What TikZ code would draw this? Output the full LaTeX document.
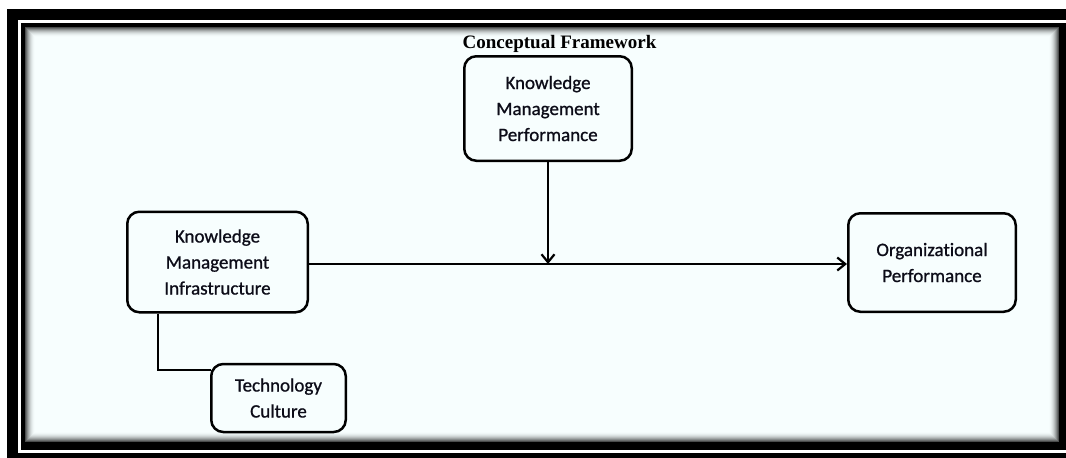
\documentclass[tikz,border=0pt]{standalone}
\usepackage{fontspec}
\setmainfont{Carlito}[FakeBold=0.9, Ligatures=NoCommon]
\newfontfamily\titlefont{Liberation Serif}
\usetikzlibrary{arrows.meta,calc}
\definecolor{paper}{RGB}{247,254,254}
\definecolor{ink}{RGB}{12,12,24}
\tikzset{
  box/.style={draw=black, line width=2.5pt, rounded corners=12pt, fill=paper,
    inner sep=0pt, align=center, text=ink, font=\fontsize{19}{26}\selectfont},
  link/.style={draw=black, line width=2.2pt},
  arrowlink/.style={link, -{Straight Barb[length=8pt,width=13pt,line width=2.2pt]}}
}
\begin{document}
\begin{tikzpicture}[x=1pt,y=-1pt]
  \clip (0,0) rectangle (1066,458);
  \fill[white] (0,0) rectangle (1066,458);
  % double frame round the sheet
  \fill[black] (7,9) rectangle (1090,480);
  \draw[white, line width=3pt] (19.5,21.5) rectangle (1100,451);
  \fill[paper] (25,27) rectangle (1059,442);
  % soft inner shadow along the frame
  \foreach \i in {0,...,9} {
    \pgfmathsetmacro\p{100-70*(1-\i/10)^2}
    \draw[line width=1pt, draw=paper!\p!black] (25.5+\i,27.5+\i) rectangle (1058.5-\i,441.5-\i);
  }
  % title
  \node[font=\titlefont\bfseries\fontsize{19}{22}\selectfont, anchor=base] (title) at (559.5,48) {Conceptual Framework};
  % boxes
  \node[box, minimum width=167.5pt, minimum height=104.5pt] (KMP) at (548,108.5) {Knowledge\\Management\\Performance};
  \node[box, minimum width=180.5pt, minimum height=100.5pt] (KMI) at (217.5,262) {Knowledge\\Management\\Infrastructure};
  \node[box, minimum width=167.5pt, minimum height=98.5pt] (OP) at (932,262.5) {Organizational\\Performance};
  \node[box, minimum width=134.5pt, minimum height=68pt] (TC) at (278.5,398) {Technology\\Culture};
  % connectors
  \coordinate (J) at ([yshift=-2pt]KMI.east -| KMP.south);
  \draw[arrowlink] ([yshift=-2pt]KMI.east) -- ([yshift=-2pt]KMI.east -| OP.west);
  \draw[arrowlink] (KMP.south) -- (J);
  \draw[link] ([xshift=32pt]KMI.south west) |- ([xshift=1pt,yshift=-7pt]TC.north west);
\end{tikzpicture}
\end{document}
